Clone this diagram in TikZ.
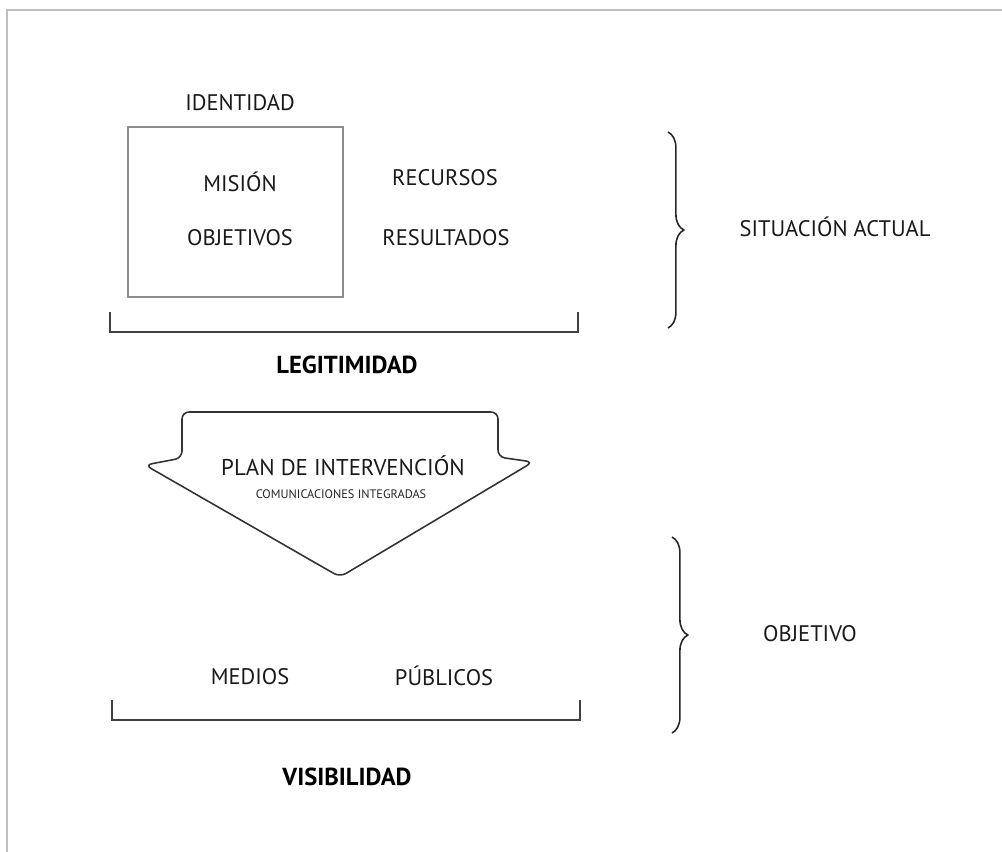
\documentclass[tikz,border=0pt]{standalone}
\usepackage{fontspec}
\setmainfont{PT Sans}
\usetikzlibrary{positioning,decorations.pathreplacing,calc}
\tikzset{
frameline/.style={black!25, line width=1.2pt},
boxline/.style={black!45, line width=1pt},
arrowline/.style={black!80, line width=0.9pt, rounded corners=4pt},
bracketline/.style={black!75, line width=0.9pt},
curly/.style={decorate, decoration={brace, amplitude=9pt, aspect=0.5}, black!85, line width=0.9pt},
word/.style={font=\fontsize{12.8}{15}\selectfont, text=black!90, inner sep=1pt},
smallword/.style={font=\fontsize{7}{8}\selectfont, text=black!85, inner sep=1pt},
heading/.style={font=\fontsize{14}{16}\selectfont\bfseries, inner sep=1pt},
}

\begin{document}
\begin{tikzpicture}[x=0.02cm, y=-0.02cm]
    \useasboundingbox (0,0) rectangle (1002,852);
    \draw[frameline] (1002,10) -- (7,10) -- (7,852);

    % situacion actual
    \node[draw, boxline, minimum width=4.3cm, minimum height=3.4cm] (idbox) at (235.5,212) {};
    \node[word] (identidad) at (240,103) {IDENTIDAD};
    \node[word] (mision) at (240,182) {MISIÓN};
    \node[word] (objetivos) at (240,238) {OBJETIVOS};
    \node[word] (recursos) at (445,178) {RECURSOS};
    \node[word] (resultados) at (446,238) {RESULTADOS};

    \coordinate (legTL) at (110,312);
    \coordinate (legTR) at (578,312);
    \draw[bracketline] (legTL) -- ++(0,20) -| (legTR);
    \node[heading] (legitimidad) at (347,365) {LEGITIMIDAD};

    \coordinate (brA) at (668,132);
    \coordinate (brB) at (668,328);
    \draw[curly] (brA) -- (brB);
    \node[word] (situacion) at (835,227) {SITUACIÓN ACTUAL};

    % plan
    \draw[arrowline] (340,577) -- (145,465) -- (182,458) -- (182,412)
        -- (498,412) -- (498,457) -- (533,462) -- cycle;
    \node[word, font=\fontsize{13}{15}\selectfont] (plan) at (343,466) {PLAN DE INTERVENCIÓN};
    \node[smallword] (comunicaciones) at (341,494) {COMUNICACIONES INTEGRADAS};

    % objetivo
    \coordinate (brC) at (672,537);
    \coordinate (brD) at (672,733);
    \draw[curly] (brC) -- (brD);
    \node[word] (objetivo) at (810,634) {OBJETIVO};

    \node[word] (medios) at (250,677) {MEDIOS};
    \node[word] (publicos) at (444,676) {PÚBLICOS};

    \coordinate (visTL) at (112,700);
    \coordinate (visTR) at (580,700);
    \draw[bracketline] (visTL) -- ++(0,20) -| (visTR);
    \node[heading] (visibilidad) at (347,777) {VISIBILIDAD};
\end{tikzpicture}
\end{document}
